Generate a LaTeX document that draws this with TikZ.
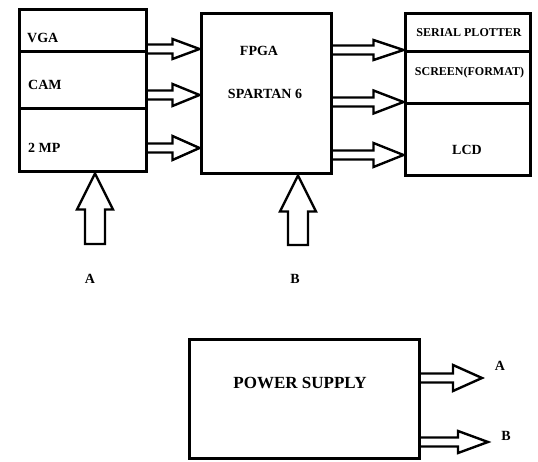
\documentclass[tikz,border=0pt]{standalone}
\usepackage{fontspec}
\setmainfont{Liberation Serif}
\usetikzlibrary{calc}
\tikzset{
  box/.style={draw, line width=3pt, rectangle, inner sep=0pt},
  lbl/.style={font=\bfseries\fontsize{14}{16}\selectfont, inner sep=0pt},
  slbl/.style={font=\bfseries\fontsize{12}{14}\selectfont, inner sep=0pt},
  fat/.style={draw, line width=2.4pt, line join=miter},
}
\newcommand\harrow[4]{% start, end, head half height, head length
  \draw[fat] let \p1=(#1), \p2=(#2) in
    (\x1,\y1+4.5pt) -- (\x2-#4,\y1+4.5pt) -- (\x2-#4,\y1+#3) -- (\x2,\y1)
    -- (\x2-#4,\y1-#3) -- (\x2-#4,\y1-4.5pt) -- (\x1,\y1-4.5pt);}
\newcommand\varrow[2]{% bottom, tip
  \draw[fat] let \p1=(#1), \p2=(#2) in
    (\x1-10pt,\y1) -- (\x1-10pt,\y2-36pt) -- (\x1-18pt,\y2-36pt) -- (\x1,\y2)
    -- (\x1+18pt,\y2-36pt) -- (\x1+10pt,\y2-36pt) -- (\x1+10pt,\y1) -- cycle;}
\begin{document}
\begin{tikzpicture}[x=1pt,y=-1pt]
\useasboundingbox (0,0) rectangle (538,462);
% left box
\node[box, minimum width=127pt, minimum height=42pt] (vga) at (82.5,31) {};
\node[box, minimum width=127pt, minimum height=57pt] (cam) at (82.5,80.5) {};
\node[box, minimum width=127pt, minimum height=63pt] (mp) at (82.5,140.5) {};
\node[lbl, anchor=west] (tvga) at (27,38) {VGA};
\node[lbl, anchor=west] (tcam) at (28,85) {CAM};
\node[lbl, anchor=west] (tmp) at (28,148) {2 MP};
% fpga
\node[box, minimum width=130pt, minimum height=160pt] (fpga) at (266,94) {};
\node[lbl] (tfpga) at (259,51) {FPGA};
\node[lbl] (tspartan) at (265,94) {SPARTAN 6};
% right box
\node[box, minimum width=125pt, minimum height=38pt] (sp) at (467.5,33) {};
\node[box, minimum width=125pt, minimum height=52pt] (scr) at (467.5,78) {};
\node[box, minimum width=125pt, minimum height=72pt] (lcd) at (467.5,140) {};
\node[slbl] (tsp) at (469,33) {SERIAL PLOTTER};
\node[slbl] (tscr) at (469.5,73) {SCREEN(FORMAT)};
\node[lbl] (tlcd) at (467,150) {LCD};
% arrows left -> fpga
\harrow{vga.east |- 0,49}{fpga.west |- 0,49}{10pt}{27pt}
\harrow{cam.east |- 0,95}{fpga.west |- 0,95}{11pt}{27pt}
\harrow{mp.east |- 0,148}{fpga.west |- 0,148}{12pt}{27pt}
% arrows fpga -> right
\harrow{fpga.east |- 0,50}{sp.west |- 0,50}{10pt}{30pt}
\harrow{fpga.east |- 0,102}{scr.west |- 0,102}{11.5pt}{30pt}
\harrow{fpga.east |- 0,155}{lcd.west |- 0,155}{12pt}{30pt}
% vertical supply arrows
\coordinate (abot) at (95,244);
\coordinate (bbot) at (298,245);
\varrow{abot}{mp.south -| abot}
\varrow{bbot}{fpga.south -| bbot}
\node[lbl] (la) at (90,279) {A};
\node[lbl] (lb) at (295,279) {B};
% power supply
\node[box, minimum width=230pt, minimum height=119pt] (ps) at (304,398.5) {};
\node[font=\bfseries\fontsize{17}{20}\selectfont, inner sep=0pt] (tps) at (300,383) {POWER SUPPLY};
\coordinate (pa) at (482,378);
\coordinate (pb) at (488,442);
\harrow{ps.east |- pa}{pa}{13pt}{29pt}
\harrow{ps.east |- pb}{pb}{11pt}{30pt}
\node[lbl] (pla) at (500,366) {A};
\node[lbl] (plb) at (506,436) {B};
\end{tikzpicture}
\end{document}
